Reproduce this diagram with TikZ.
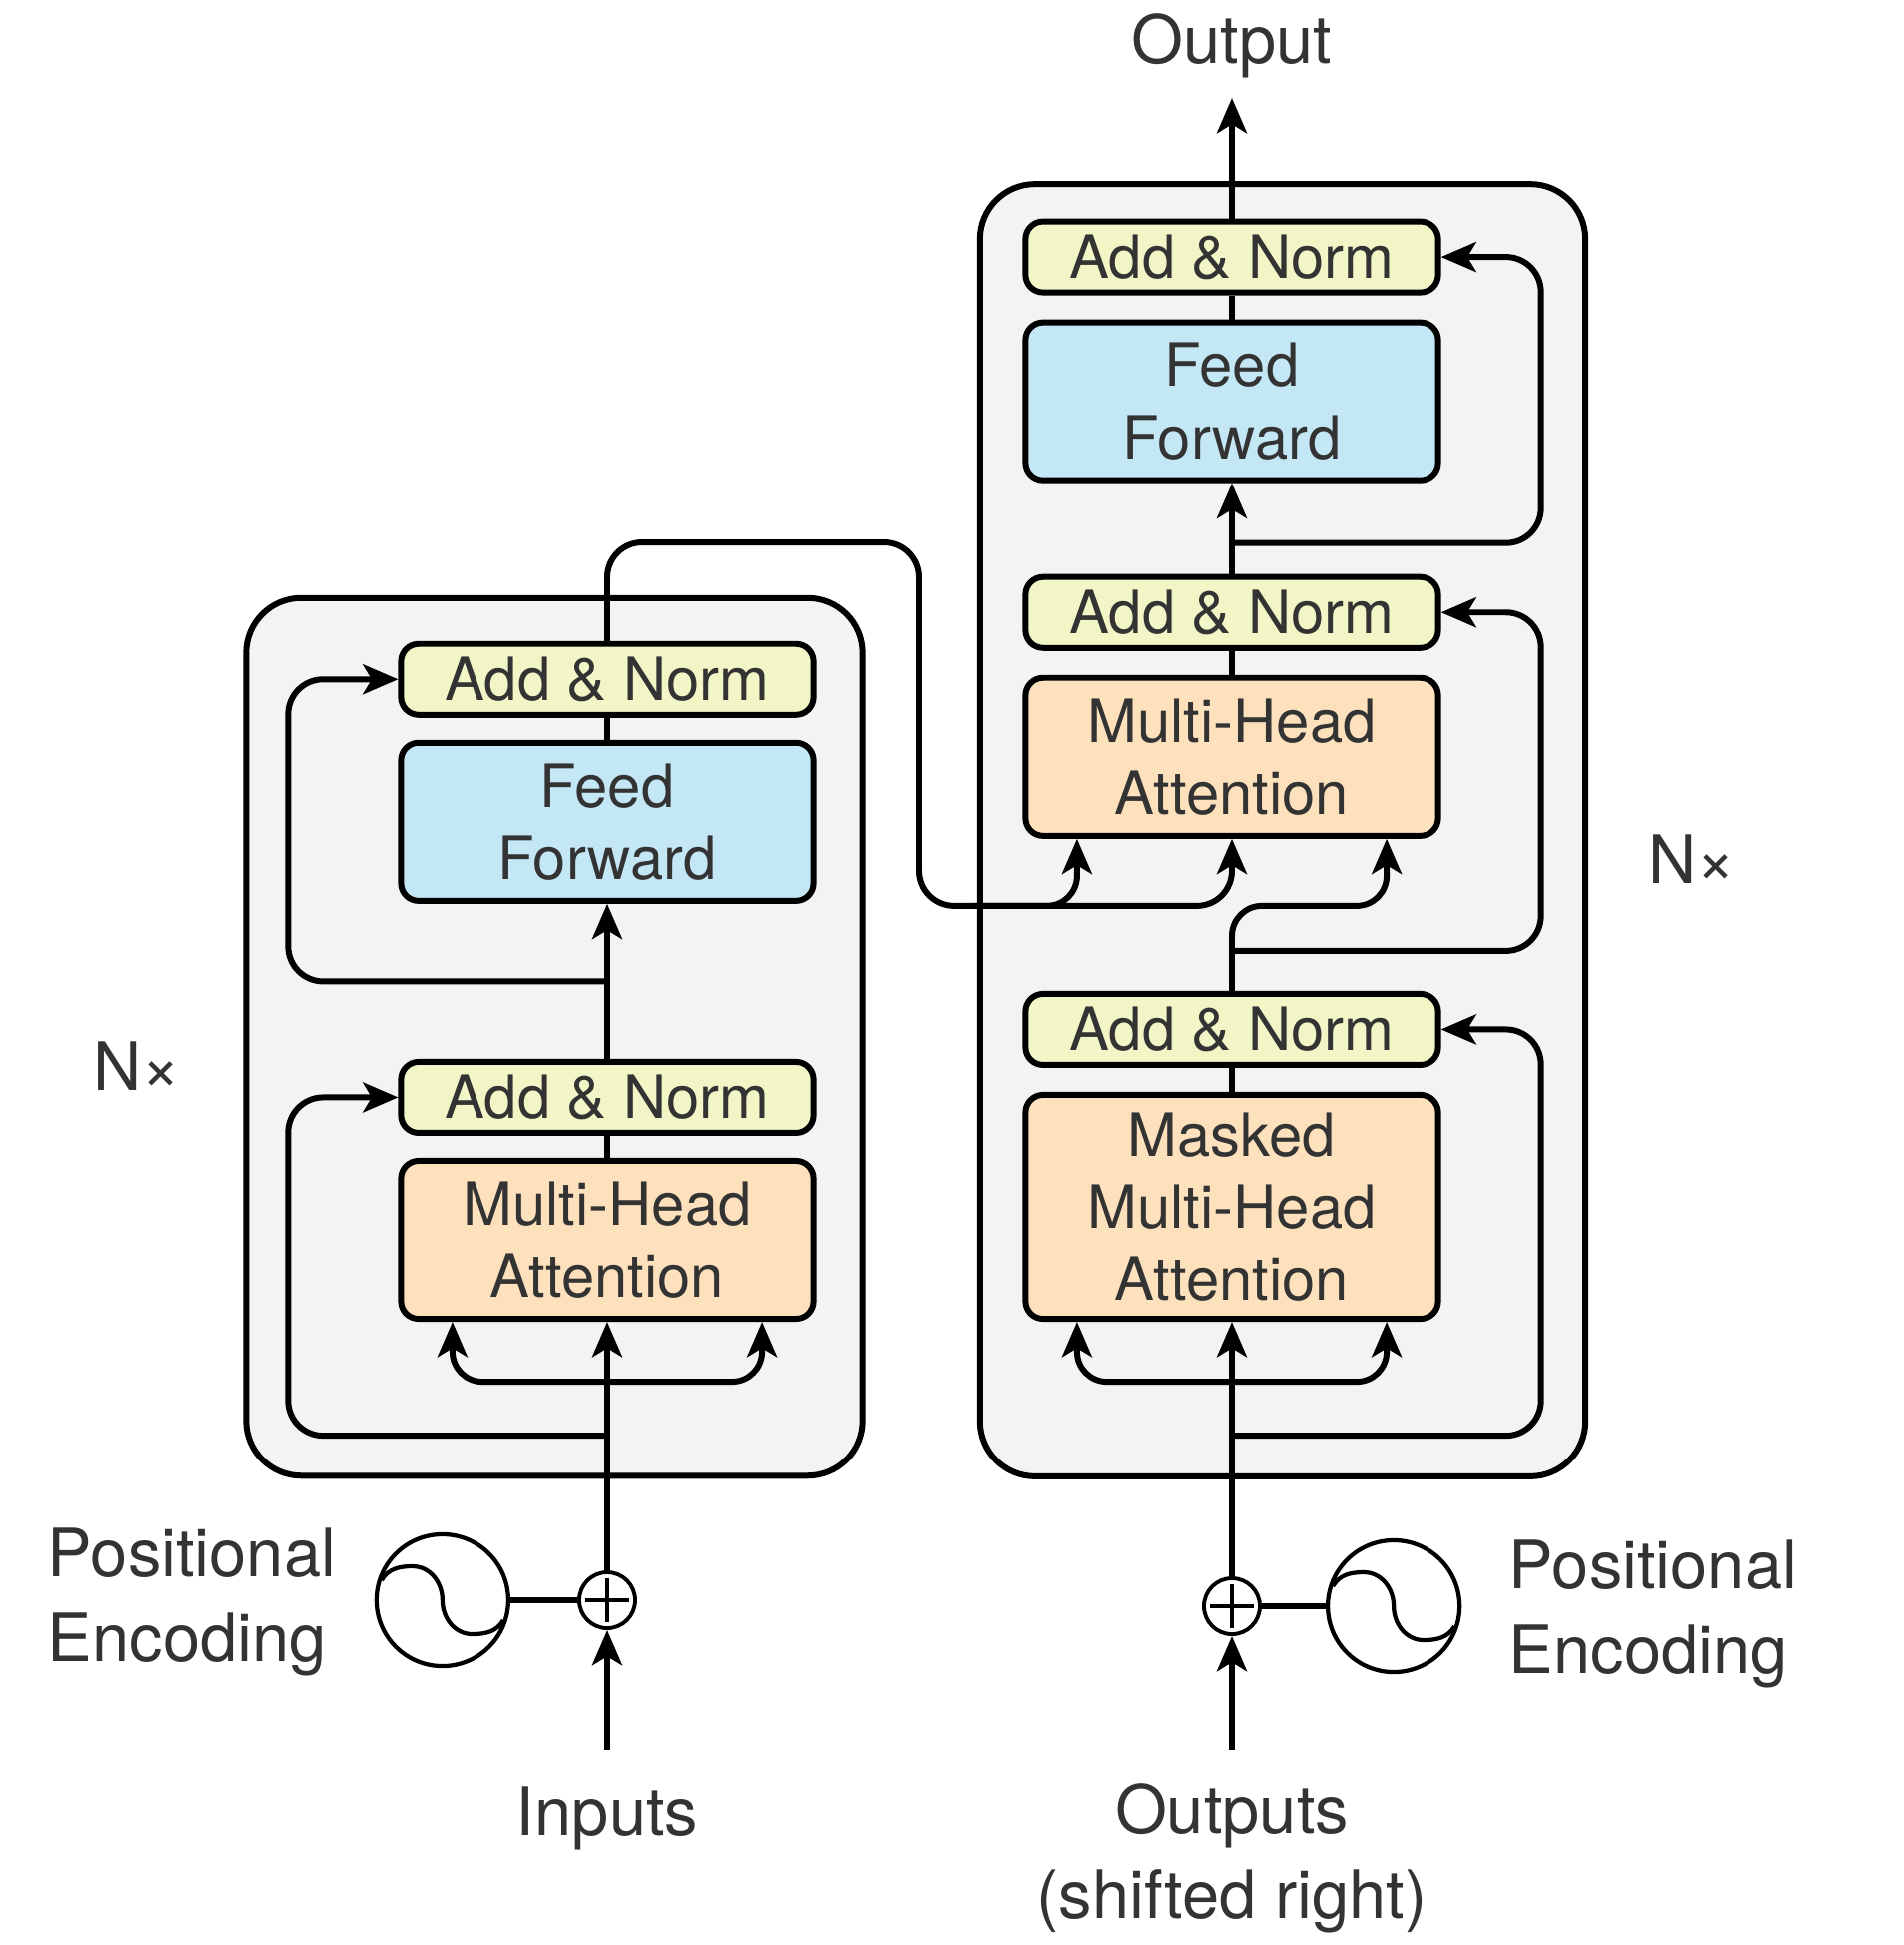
\documentclass[tikz,border=0pt]{standalone}
\usepackage{fontspec}
\setmainfont{TeX Gyre Heros}
\usetikzlibrary{positioning, arrows.meta, calc}
\definecolor{normfill}{HTML}{F2F5C6}
\definecolor{fffill}{HTML}{C4E7F6}
\definecolor{attfill}{HTML}{FDE1BD}
\definecolor{stackfill}{HTML}{F3F3F3}
\definecolor{textgray}{HTML}{333333}
\tikzset{>={Stealth[length=10pt, width=8.5pt, inset=2.5pt]}, node distance=0.22cm,
  blockbox/.style={draw, rounded corners=5pt, minimum width=4.13cm, align=center, inner sep=0pt,
    text=textgray, font=\fontsize{17}{20.5}\selectfont},
  normbox/.style={blockbox, fill=normfill, minimum height=0.71cm},
  ffbox/.style={blockbox, fill=fffill, minimum height=1.58cm},
  attbox/.style={blockbox, fill=attfill, minimum height=1.58cm},
  stackbox/.style={draw, fill=stackfill, rounded corners=0.55cm},
  outtext/.style={text=textgray, inner sep=0pt, font=\fontsize{19}{24}\selectfont},
  sumnode/.style={draw, circle, line width=1.1pt, minimum size=0.56cm, inner sep=0pt},
  wavenode/.style={draw, circle, line width=1.2pt, minimum size=1.32cm, inner sep=0pt}}

\begin{document}
\begin{tikzpicture}[x=0.01cm, y=-0.01cm, line width=1.7pt]
    \useasboundingbox (0,0) rectangle (1906,1947);
    % the two stacks
    \node[stackbox, minimum width=6.17cm, minimum height=8.78cm] (enc-stack) at (555,1038) {};
    \node[stackbox, minimum width=6.06cm, minimum height=12.93cm] (dec-stack) at (1284,831) {};

    % encoder
    \node[attbox] (enc-mha) at (608,1241) {Multi-Head\\Attention};
    \node[normbox, above=of enc-mha] (enc-norm1) {Add \& Norm};
    \node[ffbox, above=1.55cm of enc-norm1] (enc-ff) {Feed\\Forward};
    \node[normbox, above=of enc-ff] (enc-norm2) {Add \& Norm};
    \node[sumnode] (enc-plus) at (608,1602) {};
    \node[wavenode, left=0.67cm of enc-plus] (enc-wave) {};
    \node[outtext, anchor=base] (enc-in-text) at (608,1837) {Inputs};
    \coordinate (enc-in) at (608,1752);
    \node[outtext, anchor=base west, align=left] (enc-pe-text) at (45,1663) {Positional\\Encoding};
    \node[outtext] (enc-n) at (137,1067) {N×};

    % decoder
    \node[attbox, minimum height=2.24cm] (dec-mmha) at (1233,1208) {Masked\\Multi-Head\\Attention};
    \node[normbox, above=0.24cm of dec-mmha] (dec-norm1) {Add \& Norm};
    \node[attbox, above=1.52cm of dec-norm1] (dec-mha) {Multi-Head\\Attention};
    \node[normbox, above=0.24cm of dec-mha] (dec-norm2) {Add \& Norm};
    \node[ffbox, above=0.91cm of dec-norm2] (dec-ff) {Feed\\Forward};
    \node[normbox, above=0.24cm of dec-ff] (dec-norm3) {Add \& Norm};
    \node[sumnode] (dec-plus) at (1233,1608) {};
    \node[wavenode, right=0.64cm of dec-plus] (dec-wave) {};
    \node[outtext, anchor=base, align=center] (dec-in-text) at (1233,1920) {Outputs\\(shifted right)};
    \coordinate (dec-in) at (1233,1752);
    \node[outtext, anchor=base west, align=left] (dec-pe-text) at (1508,1675) {Positional\\Encoding};
    \node[outtext] (dec-n) at (1694,860) {N×};
    \node[outtext, anchor=base] (dec-out-text) at (1233,63) {Output};
    \coordinate (dec-out) at (1233,98);

    % sine and plus signs
    \foreach \w in {enc-wave, dec-wave}
        \draw[line width=1.2pt] ([shift={(-61,-20)}]\w.center) to[out=60, in=180] ++(31,-14)
            to[out=0, in=90] ++(30,34) to[out=-90, in=180] ++(30,34) to[out=0, in=-120] ++(31,-14);
    \foreach \s in {enc-plus, dec-plus}
        \draw[line width=1.1pt] ([xshift=-0.22cm]\s.center) -- ([xshift=0.22cm]\s.center)
            ([yshift=-0.22cm]\s.center) -- ([yshift=0.22cm]\s.center);

    % encoder connections
    \draw[->] (enc-in) -- (enc-plus);
    \draw (enc-wave) -- (enc-plus);
    \draw[->] (enc-plus) -- (enc-mha);
    \draw (enc-mha) -- (enc-norm1);
    \draw[->] (enc-norm1) -- (enc-ff);
    \draw (enc-ff) -- (enc-norm2);
    \coordinate (enc-split) at ([yshift=-0.6cm]enc-mha.south);
    \draw[->, rounded corners=0.3cm] (enc-split) -| ([xshift=-1.55cm]enc-mha.south);
    \draw[->, rounded corners=0.3cm] (enc-split) -| ([xshift=1.55cm]enc-mha.south);
    \coordinate (enc-res1) at ([yshift=-1.14cm]enc-mha.south);
    \draw[->, rounded corners=0.35cm] (enc-res1) -| ([xshift=-1.1cm]enc-norm1.west) -- (enc-norm1.west);
    \coordinate (enc-res2) at ($(enc-norm1.north)!0.5!(enc-ff.south)$);
    \draw[->, rounded corners=0.35cm] (enc-res2) -| ([xshift=-1.1cm]enc-norm2.west) -- (enc-norm2.west);

    % encoder output into the decoder
    \coordinate (enc-turn) at (920,543);
    \coordinate (dec-kv) at ([yshift=-0.67cm]dec-mha.south);
    \coordinate (kv-split) at ([xshift=-2.6cm]dec-kv);
    \draw[->, rounded corners=0.35cm] (enc-norm2.north) |- (enc-turn) |- (dec-kv) -- (dec-mha.south);
    \draw[->, rounded corners=0.3cm] (kv-split) -| ([xshift=-1.55cm]dec-mha.south);
    \draw[->, rounded corners=0.3cm] (dec-norm1.north) |- ([xshift=1.55cm]dec-kv) -- ([xshift=1.55cm]dec-mha.south);

    % decoder connections
    \draw[->] (dec-in) -- (dec-plus);
    \draw (dec-wave) -- (dec-plus);
    \draw[->] (dec-plus) -- (dec-mmha);
    \draw (dec-mmha) -- (dec-norm1);
    \draw (dec-mha) -- (dec-norm2);
    \draw[->] (dec-norm2) -- (dec-ff);
    \draw (dec-ff) -- (dec-norm3);
    \draw[->] (dec-norm3) -- (dec-out);
    \coordinate (dec-split) at ([yshift=-0.6cm]dec-mmha.south);
    \draw[->, rounded corners=0.3cm] (dec-split) -| ([xshift=-1.55cm]dec-mmha.south);
    \draw[->, rounded corners=0.3cm] (dec-split) -| ([xshift=1.55cm]dec-mmha.south);
    \coordinate (dec-res1) at ([yshift=-1.14cm]dec-mmha.south);
    \draw[->, rounded corners=0.35cm] (dec-res1) -| ([xshift=1cm]dec-norm1.east) -- (dec-norm1.east);
    \coordinate (dec-res2) at ([yshift=0.4cm]dec-norm1.north);
    \draw[->, rounded corners=0.35cm] (dec-res2) -| ([xshift=1cm]dec-norm2.east) -- (dec-norm2.east);
    \coordinate (dec-res3) at ([yshift=0.31cm]dec-norm2.north);
    \draw[->, rounded corners=0.35cm] (dec-res3) -| ([xshift=1cm]dec-norm3.east) -- (dec-norm3.east);
\end{tikzpicture}
\end{document}
